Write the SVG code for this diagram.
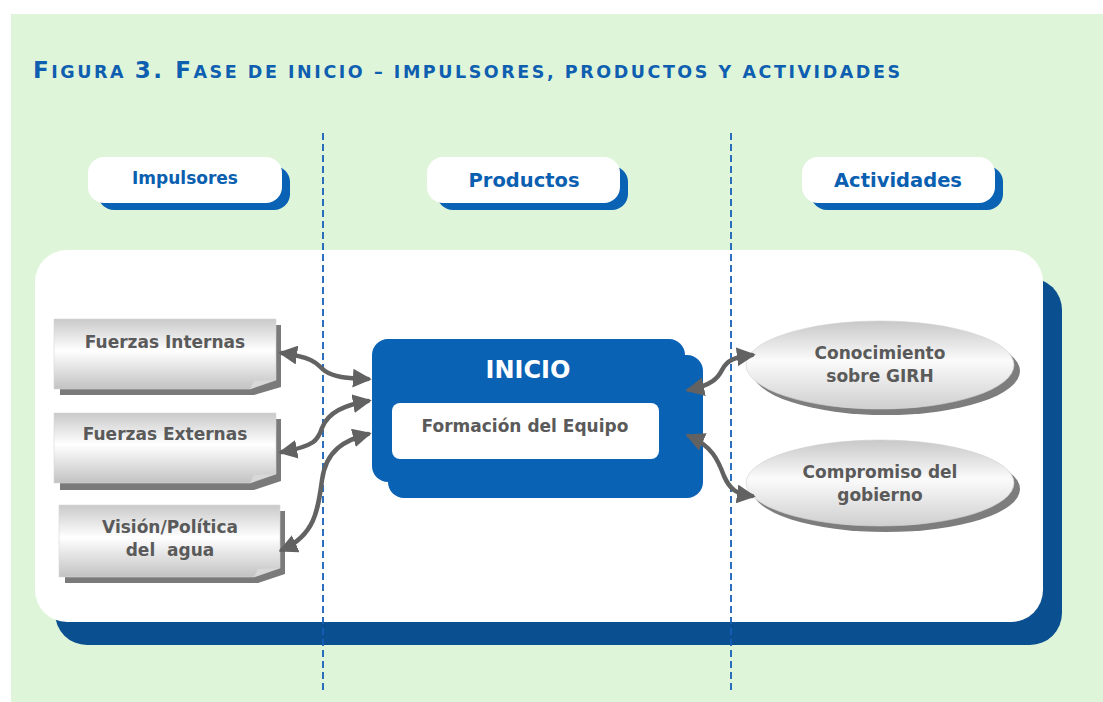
<svg xmlns="http://www.w3.org/2000/svg" width="1103" height="702" viewBox="0 0 1103 702">
<style>
.title{font-family:"DejaVu Sans",Verdana,sans-serif;font-weight:bold;fill:#0f5fb0}
.hdr{font-family:"DejaVu Sans",Verdana,sans-serif;font-weight:bold;fill:#0a5fb0;text-anchor:middle}
.lbl{font-family:"DejaVu Sans",Verdana,sans-serif;font-weight:bold;fill:#5a5a5a;text-anchor:middle;font-size:17px}
.pill{fill:#ffffff}
.pillsh{fill:#0a62b5}
.dash{stroke:#1560b8;stroke-width:1.8;stroke-dasharray:7 4;fill:none}
.conn{fill:none;stroke:#626262;stroke-width:4.5;stroke-linecap:round}
.boxsh{fill:#7a7a7a}
</style>
<defs>
<linearGradient id="gbox" x1="0" y1="0" x2="0" y2="1">
<stop offset="0" stop-color="#c9c9c9"/>
<stop offset="0.45" stop-color="#ffffff"/>
<stop offset="1" stop-color="#c2c2c2"/>
</linearGradient>
<linearGradient id="gell" x1="0" y1="0" x2="0" y2="1">
<stop offset="0" stop-color="#c8c8c8"/>
<stop offset="0.45" stop-color="#fbfbfb"/>
<stop offset="1" stop-color="#cfcfcf"/>
</linearGradient>
<marker id="ah" viewBox="0 0 10 10" refX="8" refY="5" markerWidth="4.2" markerHeight="4.2" orient="auto-start-reverse" markerUnits="strokeWidth">
<path d="M0,0 L10,5 L0,10 Z" fill="#626262"/>
</marker>
</defs>
<rect x="0" y="0" width="1103" height="702" fill="#ffffff"/>
<rect x="11" y="14" width="1092" height="688" fill="#dff5da"/>
<text class="title" x="33" y="78" textLength="867" lengthAdjust="spacing"><tspan font-size="23">F</tspan><tspan font-size="17.5">IGURA </tspan><tspan font-size="23">3. F</tspan><tspan font-size="17.5">ASE DE INICIO – IMPULSORES, PRODUCTOS Y ACTIVIDADES</tspan></text>
<g id="panel">
<rect x="55" y="278" width="1007" height="367" rx="32" fill="#0a4f8f"/>
<rect x="35" y="250" width="1008" height="372" rx="32" fill="#ffffff"/>
</g>
<g id="dividers">
<line class="dash" x1="323" y1="133" x2="323" y2="692"/>
<line class="dash" x1="731" y1="133" x2="731" y2="692"/>
</g>
<g id="hdr-impulsores">
<rect class="pillsh" x="98" y="166" width="192" height="44" rx="16"/>
<rect class="pill" x="88" y="157" width="194" height="46" rx="16"/>
<text class="hdr" x="185" y="184" font-size="17">Impulsores</text>
</g>
<g id="hdr-productos">
<rect class="pillsh" x="437" y="166" width="191" height="44" rx="16"/>
<rect class="pill" x="427" y="157" width="193" height="46" rx="16"/>
<text class="hdr" x="524" y="187" font-size="19.5">Productos</text>
</g>
<g id="hdr-actividades">
<rect class="pillsh" x="811" y="166" width="192" height="44" rx="16"/>
<rect class="pill" x="802" y="157" width="193" height="46" rx="16"/>
<text class="hdr" x="898" y="187" font-size="19.5">Actividades</text>
</g>
<g id="fuerzas-internas">
<path class="boxsh" d="M60,325 H281 V387 L254,395 H60 Z"/>
<path d="M54,319 H276 V380 L250,389 H54 Z" fill="url(#gbox)" stroke="#d6d6d6" stroke-width="0.6"/>
<path d="M250,389 L254,381 L276,380 Z" fill="#d8d8d8"/>
<text class="lbl" x="165" y="348">Fuerzas Internas</text>
</g>
<g id="fuerzas-externas">
<path class="boxsh" d="M60,419 H281 V481 L254,490 H60 Z"/>
<path d="M54,413 H276 V474 L250,483 H54 Z" fill="url(#gbox)" stroke="#d6d6d6" stroke-width="0.6"/>
<path d="M250,483 L254,475 L276,474 Z" fill="#d8d8d8"/>
<text class="lbl" x="165" y="440">Fuerzas Externas</text>
</g>
<g id="vision">
<path class="boxsh" d="M65,511 H285 V574 L258,583 H65 Z"/>
<path d="M59,505 H280 V568 L254,577 H59 Z" fill="url(#gbox)" stroke="#d6d6d6" stroke-width="0.6"/>
<path d="M254,577 L258,569 L280,568 Z" fill="#d8d8d8"/>
<text class="lbl" x="170" y="533">Visión/Política</text>
<text class="lbl" x="170" y="556" xml:space="preserve">del  agua</text>
</g>
<g id="inicio">
<rect x="388" y="355" width="315" height="143" rx="16" fill="#0a62b5"/>
<rect x="372" y="339" width="313" height="143" rx="16" fill="#0a62b5"/>
<rect x="392" y="403" width="267" height="56" rx="8" fill="#ffffff"/>
<text x="528" y="378" font-family="'DejaVu Sans',Verdana,sans-serif" font-weight="bold" font-size="24" fill="#ffffff" text-anchor="middle">INICIO</text>
<text class="lbl" x="525" y="432">Formación del Equipo</text>
</g>
<g id="conocimiento">
<ellipse cx="886" cy="371" rx="134" ry="44" fill="#7d7d7d"/>
<ellipse cx="880" cy="365" rx="134" ry="44" fill="url(#gell)" stroke="#d0d0d0" stroke-width="0.6"/>
<text class="lbl" x="880" y="359">Conocimiento</text>
<text class="lbl" x="880" y="382">sobre GIRH</text>
</g>
<g id="compromiso">
<ellipse cx="886" cy="489" rx="134" ry="43" fill="#7d7d7d"/>
<ellipse cx="880" cy="483" rx="134" ry="43" fill="url(#gell)" stroke="#d0d0d0" stroke-width="0.6"/>
<text class="lbl" x="880" y="478">Compromiso del</text>
<text class="lbl" x="880" y="501">gobierno</text>
</g>
<g id="connectors">
<path class="conn" marker-start="url(#ah)" marker-end="url(#ah)" d="M282,353 C318,358 318,366 325,371 C335,378 350,378 368,379"/>
<path class="conn" marker-start="url(#ah)" marker-end="url(#ah)" d="M282,452 C315,446 318,440 322,428 C328,412 345,405 368,401"/>
<path class="conn" marker-start="url(#ah)" marker-end="url(#ah)" d="M282,550 C315,535 318,510 322,480 C326,450 345,440 368,434"/>
<path class="conn" marker-start="url(#ah)" marker-end="url(#ah)" d="M689,390 C712,385 718,378 722,370 C727,360 735,357 752,355"/>
<path class="conn" marker-start="url(#ah)" marker-end="url(#ah)" d="M689,436 C712,446 718,460 724,476 C730,490 737,494 752,496"/>
</g>
</svg>
